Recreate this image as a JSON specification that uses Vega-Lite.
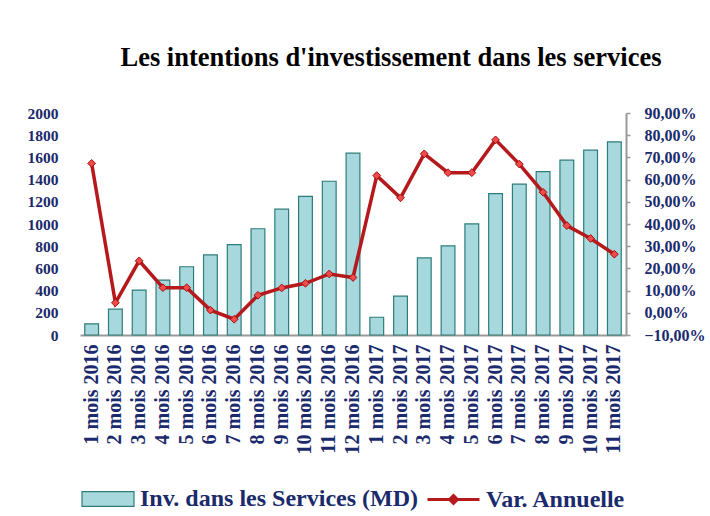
{
  "$schema": "https://vega.github.io/schema/vega-lite/v6.json",
  "autosize": "none",
  "width": 546,
  "height": 222,
  "padding": {"left": 80, "top": 113, "right": 84, "bottom": 181},
  "background": "white",
  "title": {
    "text": "Les intentions d'investissement dans les services",
    "font": "Liberation Serif",
    "fontSize": 26.5,
    "fontWeight": "bold",
    "color": "#000000",
    "anchor": "middle",
    "dx": 38,
    "offset": 34
  },
  "data": {
    "values": [
      {"label": "1 mois 2016", "inv": 100, "var": 0.673},
      {"label": "2 mois 2016", "inv": 233, "var": 0.045},
      {"label": "3 mois 2016", "inv": 405, "var": 0.234},
      {"label": "4 mois 2016", "inv": 495, "var": 0.113},
      {"label": "5 mois 2016", "inv": 615, "var": 0.113},
      {"label": "6 mois 2016", "inv": 721, "var": 0.012},
      {"label": "7 mois 2016", "inv": 814, "var": -0.029},
      {"label": "8 mois 2016", "inv": 957, "var": 0.079},
      {"label": "9 mois 2016", "inv": 1134, "var": 0.112},
      {"label": "10 mois 2016", "inv": 1249, "var": 0.133},
      {"label": "11 mois 2016", "inv": 1385, "var": 0.175},
      {"label": "12 mois 2016", "inv": 1638, "var": 0.159},
      {"label": "1 mois 2017", "inv": 160, "var": 0.618},
      {"label": "2 mois 2017", "inv": 350, "var": 0.518},
      {"label": "3 mois 2017", "inv": 694, "var": 0.716},
      {"label": "4 mois 2017", "inv": 803, "var": 0.631},
      {"label": "5 mois 2017", "inv": 1002, "var": 0.631},
      {"label": "6 mois 2017", "inv": 1273, "var": 0.779},
      {"label": "7 mois 2017", "inv": 1360, "var": 0.670},
      {"label": "8 mois 2017", "inv": 1472, "var": 0.543},
      {"label": "9 mois 2017", "inv": 1575, "var": 0.393},
      {"label": "10 mois 2017", "inv": 1665, "var": 0.335},
      {"label": "11 mois 2017", "inv": 1740, "var": 0.264}
    ]
  },
  "encoding": {
    "x": {
      "field": "label",
      "type": "nominal",
      "sort": null,
      "scale": {"paddingInner": 0.42, "paddingOuter": 0.2},
      "axis": {
        "title": null,
        "labelAngle": -90,
        "labelFont": "Liberation Serif",
        "labelFontSize": 20,
        "labelFontWeight": "bold",
        "labelColor": "#1a2a6c",
        "labelPadding": 9,
        "ticks": false,
        "domainColor": "#999999",
        "domainWidth": 2,
        "grid": false
      }
    }
  },
  "layer": [
    {
      "mark": {"type": "bar", "stroke": "#2e7d7a", "strokeWidth": 1.2},
      "encoding": {
        "y": {
          "field": "inv",
          "type": "quantitative",
          "scale": {"domain": [0, 2000], "nice": false},
          "axis": {
            "title": null,
            "orient": "left",
            "format": "d",
            "values": [0, 200, 400, 600, 800, 1000, 1200, 1400, 1600, 1800, 2000],
            "labelFont": "Liberation Serif",
            "labelFontSize": 15.5,
            "labelFontWeight": "bold",
            "labelColor": "#1a2a6c",
            "labelPadding": 22,
            "labelOverlap": false,
            "ticks": false,
            "domain": false,
            "grid": false
          }
        },
        "fill": {
          "datum": "Inv. dans les Services (MD)",
          "type": "nominal",
          "scale": {"range": ["#a6d8dd"]},
          "legend": {
            "title": null,
            "orient": "bottom",
            "direction": "horizontal",
            "labelFont": "Liberation Serif",
            "labelFontSize": 24,
            "labelFontWeight": "bold",
            "labelColor": "#1a2a6c",
            "labelLimit": 400,
            "symbolType": "M-1,-0.28H1V0.28H-1Z",
            "symbolSize": 2704,
            "symbolStrokeColor": "#2e7d7a",
            "symbolStrokeWidth": 1.2,
            "symbolOpacity": 1,
            "labelOffset": 5,
            "offset": 18
          }
        }
      }
    },
    {
      "encoding": {
        "y": {
          "field": "var",
          "type": "quantitative",
          "scale": {"domain": [-0.1, 0.9], "nice": false},
          "axis": {
            "title": null,
            "orient": "right",
            "values": [-0.1, 0, 0.1, 0.2, 0.3, 0.4, 0.5, 0.6, 0.7, 0.8, 0.9],
            "labelExpr": "replace(format(datum.value, '.2%'), '.', ',')",
            "labelFont": "Liberation Serif",
            "labelFontSize": 16,
            "labelFontWeight": "bold",
            "labelColor": "#1a2a6c",
            "labelPadding": 14,
            "labelOverlap": false,
            "ticks": true,
            "tickSize": 4,
            "tickColor": "#999999",
            "tickWidth": 1.5,
            "domain": true,
            "domainColor": "#999999",
            "domainWidth": 2,
            "grid": false
          }
        }
      },
      "layer": [
        {
          "mark": {"type": "line", "strokeWidth": 3.5},
          "encoding": {
            "stroke": {
              "datum": "Var. Annuelle",
              "type": "nominal",
              "scale": {"range": ["#b5191b"]},
              "legend": {
                "title": null,
                "orient": "bottom",
                "direction": "horizontal",
                "labelFont": "Liberation Serif",
                "labelFontSize": 24,
                "labelFontWeight": "bold",
                "labelColor": "#1a2a6c",
                "labelLimit": 400,
                "symbolType": "M-1,0H1M0,-0.15L0.15,0L0,0.15L-0.15,0Z",
                "symbolSize": 2704,
                "symbolStrokeWidth": 3,
                "symbolFillColor": "#f04a4a",
                "labelOffset": 5,
                "offset": 18
              }
            }
          }
        },
        {
          "mark": {"type": "point", "shape": "diamond", "filled": true, "fill": "#f04a4a", "stroke": "#a01010", "strokeWidth": 1, "size": 60, "opacity": 1}
        }
      ]
    }
  ],
  "resolve": {"scale": {"y": "independent", "fill": "independent", "stroke": "independent"}},
  "config": {
    "view": {"stroke": null},
    "legend": {"layout": {"bottom": {"anchor": "middle", "direction": "horizontal", "margin": 8}}}
  }
}
